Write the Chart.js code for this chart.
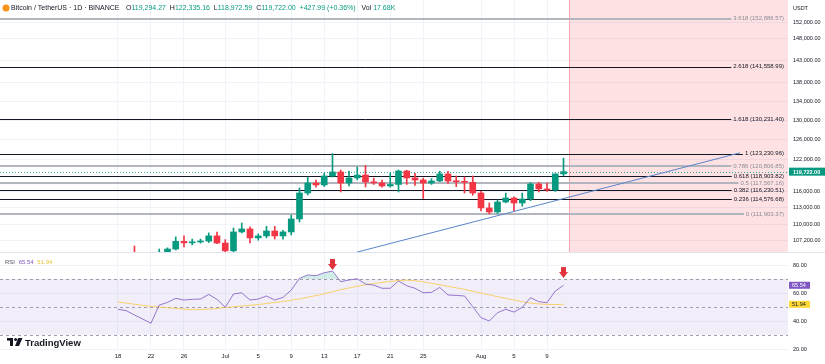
<!DOCTYPE html>
<html>
<head>
<meta charset="utf-8">
<title>BTCUSDT 1D</title>
<script src="https://cdn.jsdelivr.net/npm/chart.js@4.4.0/dist/chart.umd.min.js"></script>
<style>
  html, body { margin: 0; padding: 0; background: #fff; }
  #wrap { position: relative; width: 825px; height: 364px; overflow: hidden; }
  canvas { position: absolute; left: 0; }
  #priceChart { top: 0; }
  #rsiChart { top: 252px; }
</style>
</head>
<body>
<div id="wrap">
  <canvas id="priceChart" width="825" height="252"></canvas>
  <canvas id="rsiChart" width="825" height="112"></canvas>
</div>
<script>
// x = day index, 0 = Jun 18 2025
const dates = [
  'Jun 18','Jun 19','Jun 20','Jun 21','Jun 22','Jun 23','Jun 24','Jun 25','Jun 26','Jun 27','Jun 28','Jun 29','Jun 30',
  'Jul 1','Jul 2','Jul 3','Jul 4','Jul 5','Jul 6','Jul 7','Jul 8','Jul 9','Jul 10','Jul 11','Jul 12','Jul 13','Jul 14',
  'Jul 15','Jul 16','Jul 17','Jul 18','Jul 19','Jul 20','Jul 21','Jul 22','Jul 23','Jul 24','Jul 25','Jul 26','Jul 27',
  'Jul 28','Jul 29','Jul 30','Jul 31',
  'Aug 1','Aug 2','Aug 3','Aug 4','Aug 5','Aug 6','Aug 7','Aug 8','Aug 9','Aug 10','Aug 11'
];
const opens = [104551,104886,104658,103297,102120,100963,105250,105800,107100,106850,107000,107150,108050,
  106820,105500,108730,109250,107700,108040,108900,108040,108730,111010,115710,117570,117210,118900,
  119660,117570,118530,119080,117770,117600,117020,117300,119850,118530,118140,117570,117950,
  119280,117950,117800,117700,
  115710,112980,112260,114060,114790,113880,114600,117390,116460,116270,119294.27];
const highs = [105200,105150,106300,104100,103000,105800,106000,107870,108040,107500,107500,108560,108700,
  107400,109420,110300,109600,108400,109700,109700,109000,111700,116650,118700,118100,119400,123231,
  120040,119850,120620,120900,118500,118100,119500,120040,120000,119400,118500,118400,119800,
  119800,118900,118700,118900,
  116000,113880,114400,115700,115000,115700,117650,117700,117570,119300,122335.16];
const lows = [103500,103900,102300,100800,98200,99600,104700,105640,106140,106500,106800,106900,106700,
  105200,105100,108560,106820,107300,107700,107500,107500,108210,110480,115340,116800,116900,118700,
  115900,117020,118140,116830,117300,116800,116800,115900,117300,117100,114700,117300,117800,
  117500,116900,115700,115300,
  112430,111903,112000,113900,112430,113300,114300,115900,116000,116000,118972.59];
const closes = [104886,104658,103297,102120,100963,105250,105800,107100,106850,107000,107150,108050,106820,
  105500,108730,109250,107700,108040,108900,108040,108730,111010,115710,117570,117210,118900,119660,
  117570,118530,119080,117770,117600,117020,117300,119850,118530,118140,117570,117950,119280,
  117950,117800,117700,115710,
  112980,112260,114060,114790,113880,114600,117390,116460,116270,119294.27,119722.00];

const rsiValues = [48.4,47.4,44.3,41.4,38.4,51.4,53.3,56.2,55.0,55.5,55.7,59.0,55.5,
  49.8,59.3,60.2,55.0,55.7,57.9,55.0,56.9,62.1,70.5,72.9,72.4,74.5,75.7,
  68.1,69.3,70.2,66.4,65.7,63.4,63.4,68.6,65.2,63.4,60.2,60.5,64.0,
  58.6,58.3,57.9,50.2,
  42.4,40.0,45.9,48.4,46.4,49.8,56.7,53.8,53.1,61.4,65.54];
const rsiMa = [53.5,52.8,52.0,51.2,50.5,50.0,49.5,49.0,48.5,48.2,48.2,48.5,49.0,
  49.6,50.2,50.7,51.2,51.8,52.5,53.2,54.0,54.8,55.8,57.0,58.2,59.5,61.0,
  62.4,63.6,64.8,65.9,66.8,67.6,68.3,68.9,69.2,68.8,68.0,66.9,65.9,
  64.8,63.7,62.6,61.3,
  60.0,58.7,57.4,56.2,55.0,53.8,52.8,52.2,51.9,51.8,51.94];

const dateTicks = [0, 4, 8, 13, 17, 21, 25, 29, 33, 37, 44, 48, 52];
const dateTickLabels = ['18', '22', '26', 'Jul', '5', '9', '13', '17', '21', '25', 'Aug', '5', '9'];
const priceTicks = [107200, 110000, 113000, 116000, 122000, 126000, 130000, 134000, 138000, 143000, 148000, 152000];
const rsiTicks = [20, 40, 60, 80];
const rsiBands = [70, 50, 30];

const fibRatios = ['3.618', '2.618', '1.618', '1', '0.786', '0.618', '0.5', '0.382', '0.236', '0'];
const fibPrices = [152886.57, 141558.99, 130231.40, 123230.96, 120806.85, 118903.82, 117567.16, 116230.51, 114576.68, 111903.37];
const fibStyle = ['grey', 'dark', 'dark', 'dark', 'grey', 'dark', 'grey', 'dark', 'dark', 'grey'];

const trendDays = [28.73, 75.39];
const trendPrices = [105190, 123380];
const zoneStartDay = 54.67;
const arrowDays = [26, 54];
const arrowRsi = [76.5, 70.7];

const viewDays = [-14.3, 81.21];
const priceRange = [105300, 157500];
const rsiRange = [19.3, 88.6];

const UP = '#089981', DOWN = '#f23645', TEXT = '#131722', GRID = '#f0f3fa';
const FONT = '"Liberation Sans", Arial, sans-serif';
Chart.defaults.font.family = FONT;

const fmt = v => v.toLocaleString('en-US', { minimumFractionDigits: 2, maximumFractionDigits: 2 });
const candleColors = closes.map((c, i) => c >= opens[i] ? UP : DOWN);
const noPad = s => { s.paddingTop = 0; s.paddingBottom = 0; s.paddingLeft = 0; s.paddingRight = 0; };

const priceOverlay = {
  id: 'priceOverlay',
  beforeDatasetsDraw(chart) {
    const { ctx, chartArea: a, scales: { x, y } } = chart;
    ctx.save();
    ctx.beginPath();
    ctx.rect(a.left, a.top, a.right - a.left, a.bottom - a.top);
    ctx.clip();

    // date range box on the right
    const zx = Math.round(x.getPixelForValue(zoneStartDay));
    ctx.fillStyle = 'rgba(242, 54, 69, 0.15)';
    ctx.fillRect(zx, a.top, a.right - zx, a.bottom - a.top);
    ctx.fillStyle = 'rgba(242, 54, 69, 0.35)';
    ctx.fillRect(zx, a.top, 1, a.bottom - a.top);

    // fib extension lines, they stop where their label starts
    ctx.font = '6px ' + FONT;
    fibPrices.forEach((p, i) => {
      const dark = fibStyle[i] === 'dark';
      const w = ctx.measureText(fibRatios[i] + ' (' + fmt(p) + ')').width;
      const end = a.right - 4 - w - 2;
      const py = Math.round(y.getPixelForValue(p)) + (dark ? 0.5 : 0);
      ctx.strokeStyle = dark ? TEXT : '#b2b5be';
      ctx.lineWidth = dark ? 1 : 2;
      ctx.beginPath();
      ctx.moveTo(a.left, py);
      ctx.lineTo(end, py);
      ctx.stroke();
    });

    // last price line
    const ly = Math.round(y.getPixelForValue(closes[closes.length - 1])) + 0.5;
    ctx.strokeStyle = 'rgba(8, 153, 129, 0.8)';
    ctx.lineWidth = 1;
    ctx.setLineDash([1, 2]);
    ctx.beginPath();
    ctx.moveTo(a.left, ly);
    ctx.lineTo(a.right, ly);
    ctx.stroke();
    ctx.restore();
  },
  afterDatasetsDraw(chart) {
    const { ctx, chartArea: a, scales: { y } } = chart;
    ctx.save();
    ctx.font = '6px ' + FONT;
    ctx.textAlign = 'right';
    ctx.textBaseline = 'middle';
    fibPrices.forEach((p, i) => {
      ctx.fillStyle = fibStyle[i] === 'dark' ? TEXT : '#8a8d96';
      ctx.fillText(fibRatios[i] + ' (' + fmt(p) + ')', a.right - 4, y.getPixelForValue(p));
    });
    ctx.restore();
  },
  afterDraw(chart) {
    const { ctx, chartArea: a, scales: { y } } = chart;
    ctx.save();
    // header
    ctx.fillStyle = '#f7931a';
    ctx.beginPath();
    ctx.arc(6, 8, 3.5, 0, Math.PI * 2);
    ctx.fill();
    ctx.textBaseline = 'middle';
    ctx.textAlign = 'left';
    ctx.font = '7px ' + FONT;
    ctx.fillStyle = TEXT;
    ctx.fillText('Bitcoin / TetherUS · 1D · BINANCE', 11, 8.5);
    let hx = 126;
    const parts = [['O', TEXT], ['119,294.27', UP], ['  H', TEXT], ['122,335.16', UP], ['  L', TEXT], ['118,972.59', UP],
      ['  C', TEXT], ['119,722.00', UP], ['  +427.99 (+0.36%)', UP], ['   Vol', TEXT], [' 17.68K', UP]];
    ctx.font = '7px ' + FONT;
    parts.forEach(([t, c]) => {
      ctx.fillStyle = c;
      ctx.fillText(t, hx, 8.5);
      hx += ctx.measureText(t).width;
    });

    // axis unit and last price tag
    ctx.font = '5.5px ' + FONT;
    ctx.fillStyle = TEXT;
    ctx.fillText('USDT', a.right + 5, 8);
    const ly = y.getPixelForValue(closes[closes.length - 1]);
    ctx.fillStyle = UP;
    ctx.fillRect(a.right + 1, ly - 4, 36, 8);
    ctx.fillStyle = '#fff';
    ctx.font = 'bold 5.5px ' + FONT;
    ctx.fillText(fmt(closes[closes.length - 1]), a.right + 5, ly + 0.5);
    ctx.restore();
  }
};

new Chart(document.getElementById('priceChart'), {
  type: 'bar',
  data: {
    datasets: [
      {
        label: 'wick',
        data: dates.map((d, i) => ({ x: i, y: [lows[i], highs[i]] })),
        backgroundColor: candleColors,
        barThickness: 1,
        grouped: false,
        order: 2
      },
      {
        label: 'body',
        data: dates.map((d, i) => ({ x: i, y: [opens[i], closes[i]] })),
        backgroundColor: candleColors,
        barThickness: 6,
        minBarLength: 1,
        grouped: false,
        order: 1
      },
      {
        type: 'line',
        label: 'trend',
        data: trendDays.map((d, i) => ({ x: d, y: trendPrices[i] })),
        borderColor: '#5a84c9',
        borderWidth: 1,
        pointRadius: 0,
        order: 0
      }
    ]
  },
  options: {
    responsive: false,
    animation: false,
    devicePixelRatio: 1,
    events: [],
    layout: { padding: 0, autoPadding: false },
    plugins: { legend: { display: false }, tooltip: { enabled: false } },
    scales: {
      x: {
        type: 'linear', min: viewDays[0], max: viewDays[1], bounds: 'data', offset: false,
        afterBuildTicks: s => { s.ticks = dateTicks.map(v => ({ value: v })); },
        afterFit: s => { s.height = 0; noPad(s); },
        ticks: { display: false },
        grid: { color: GRID, drawTicks: false, offset: false },
        border: { display: false }
      },
      y: {
        type: 'logarithmic', position: 'right', min: priceRange[0], max: priceRange[1], bounds: 'data',
        afterBuildTicks: s => { s.ticks = priceTicks.map(v => ({ value: v })); },
        afterFit: s => { s.width = 37; noPad(s); },
        ticks: { callback: v => fmt(v), color: TEXT, font: { size: 5.5 }, padding: 5, autoSkip: false },
        grid: { color: GRID, drawTicks: false },
        border: { display: false }
      }
    }
  },
  plugins: [priceOverlay]
});

function drawArrow(ctx, x, tipY) {
  ctx.fillStyle = '#e0353d';
  ctx.fillRect(x - 2.5, tipY - 11, 5, 5.5);
  ctx.beginPath();
  ctx.moveTo(x - 4.5, tipY - 6);
  ctx.lineTo(x + 4.5, tipY - 6);
  ctx.lineTo(x, tipY);
  ctx.closePath();
  ctx.fill();
}

const rsiOverlay = {
  id: 'rsiOverlay',
  beforeDatasetsDraw(chart) {
    const { ctx, chartArea: a, scales: { y } } = chart;
    ctx.save();
    const top = y.getPixelForValue(rsiBands[0]);
    const bottom = y.getPixelForValue(rsiBands[2]);
    ctx.fillStyle = 'rgba(126, 87, 194, 0.1)';
    ctx.fillRect(a.left, top, a.right - a.left, bottom - top);
    ctx.strokeStyle = 'rgba(120, 123, 134, 0.7)';
    ctx.lineWidth = 1;
    ctx.setLineDash([3, 3]);
    rsiBands.forEach(b => {
      const py = Math.round(y.getPixelForValue(b)) + 0.5;
      ctx.beginPath();
      ctx.moveTo(a.left, py);
      ctx.lineTo(a.right, py);
      ctx.stroke();
    });
    ctx.restore();
  },
  afterDatasetsDraw(chart) {
    const { ctx, chartArea: a, scales: { x, y } } = chart;
    ctx.save();
    arrowDays.forEach((d, i) => drawArrow(ctx, x.getPixelForValue(d), y.getPixelForValue(arrowRsi[i])));

    // pane legend
    ctx.textBaseline = 'middle';
    ctx.textAlign = 'left';
    ctx.font = '6px ' + FONT;
    let lx = 5;
    [['RSI', '#50535e'], [' ' + rsiValues[rsiValues.length - 1].toFixed(2), '#7e57c2'], [' ' + rsiMa[rsiMa.length - 1].toFixed(2), '#e8c33a']]
      .forEach(([t, c]) => { ctx.fillStyle = c; ctx.fillText(t, lx, 10); lx += ctx.measureText(t).width + 2; });

    // value tags on the axis
    const tags = [[rsiValues[rsiValues.length - 1], '#7e57c2', '#fff'], [rsiMa[rsiMa.length - 1], '#fdd835', TEXT]];
    ctx.font = '5.5px ' + FONT;
    tags.forEach(([v, bg, fg]) => {
      const py = y.getPixelForValue(v);
      ctx.fillStyle = bg;
      ctx.fillRect(a.right + 1, py - 3.5, 21, 7);
      ctx.fillStyle = fg;
      ctx.fillText(v.toFixed(2), a.right + 4, py + 0.5);
    });

    // TradingView mark
    ctx.fillStyle = TEXT;
    ctx.fillRect(7, 86, 6, 2.6);
    ctx.fillRect(10, 86, 3, 8);
    ctx.beginPath();
    ctx.arc(15.6, 87.4, 1.5, 0, Math.PI * 2);
    ctx.fill();
    ctx.beginPath();
    ctx.moveTo(18.2, 86);
    ctx.lineTo(22.5, 86);
    ctx.lineTo(19, 94);
    ctx.lineTo(15, 94);
    ctx.closePath();
    ctx.fill();
    ctx.font = 'bold 9.5px ' + FONT;
    ctx.textBaseline = 'alphabetic';
    ctx.fillText('TradingView', 25, 93.5);

    // pane separator
    ctx.fillStyle = '#e0e3eb';
    ctx.fillRect(0, 0, chart.width, 1);
    ctx.restore();
  }
};

new Chart(document.getElementById('rsiChart'), {
  type: 'line',
  data: {
    datasets: [
      {
        label: 'RSI',
        data: rsiValues.map((v, i) => ({ x: i, y: v })),
        borderColor: 'rgba(126, 87, 194, 0.8)',
        borderWidth: 1,
        pointRadius: 0,
        fill: { target: { value: 70 }, above: 'rgba(8, 153, 129, 0.18)', below: 'transparent' },
        order: 0
      },
      {
        label: 'RSI MA',
        data: rsiMa.map((v, i) => ({ x: i, y: v })),
        borderColor: 'rgba(250, 200, 70, 0.8)',
        borderWidth: 1,
        pointRadius: 0,
        order: 1
      }
    ]
  },
  options: {
    responsive: false,
    animation: false,
    devicePixelRatio: 1,
    events: [],
    layout: { padding: { top: 1, left: 0, right: 0, bottom: 0 }, autoPadding: false },
    plugins: { legend: { display: false }, tooltip: { enabled: false } },
    scales: {
      x: {
        type: 'linear', min: viewDays[0], max: viewDays[1], bounds: 'data', offset: false,
        afterBuildTicks: s => { s.ticks = dateTicks.map(v => ({ value: v })); },
        afterFit: s => { s.height = 14; noPad(s); },
        ticks: { callback: (v, i) => dateTickLabels[i], color: TEXT, font: { size: 6 }, padding: 3, autoSkip: false, maxRotation: 0 },
        grid: { color: GRID, drawTicks: false },
        border: { display: false }
      },
      y: {
        type: 'linear', position: 'right', min: rsiRange[0], max: rsiRange[1], bounds: 'data',
        afterBuildTicks: s => { s.ticks = rsiTicks.map(v => ({ value: v })); },
        afterFit: s => { s.width = 37; noPad(s); },
        ticks: { callback: v => v.toFixed(2), color: TEXT, font: { size: 5.5 }, padding: 5, autoSkip: false },
        grid: { color: GRID, drawTicks: false },
        border: { display: false }
      }
    }
  },
  plugins: [rsiOverlay]
});
</script>
</body>
</html>
